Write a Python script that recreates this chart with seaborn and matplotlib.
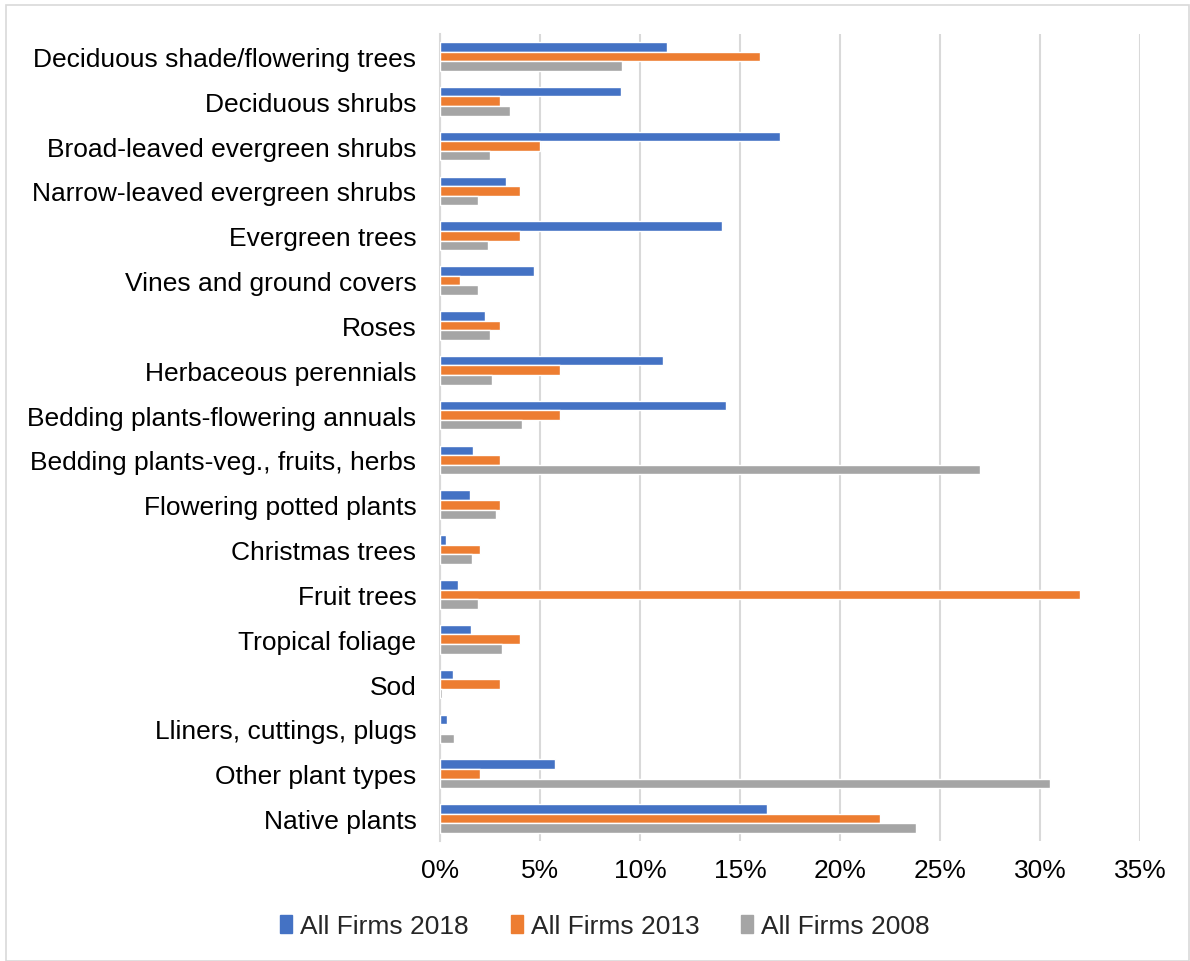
import matplotlib
matplotlib.use("Agg")
import matplotlib.pyplot as plt
import matplotlib.patches as mpatches
from matplotlib.ticker import FuncFormatter, MultipleLocator
import numpy as np
import pandas as pd
import seaborn as sns

categories = [
    "Deciduous shade/flowering trees",
    "Deciduous shrubs",
    "Broad-leaved evergreen shrubs",
    "Narrow-leaved evergreen shrubs",
    "Evergreen trees",
    "Vines and ground covers",
    "Roses",
    "Herbaceous perennials",
    "Bedding plants-flowering annuals",
    "Bedding plants-veg., fruits, herbs",
    "Flowering potted plants",
    "Christmas trees",
    "Fruit trees",
    "Tropical foliage",
    "Sod",
    "Lliners, cuttings, plugs",
    "Other plant types",
    "Native plants",
]

firms_2018 = [11.35, 9.05, 17.0, 3.3, 14.1, 4.7, 2.27, 11.15, 14.3, 1.66,
              1.5, 0.32, 0.92, 1.57, 0.65, 0.37, 5.75, 16.35]
firms_2013 = [16.0, 3.0, 5.0, 4.0, 4.0, 1.0, 3.0, 6.0, 6.0, 3.0,
              3.0, 2.0, 32.0, 4.0, 3.0, 0.0, 2.0, 22.0]
firms_2008 = [9.1, 3.5, 2.5, 1.9, 2.4, 1.9, 2.5, 2.6, 4.1, 27.0,
              2.8, 1.6, 1.9, 3.1, 0.1, 0.72, 30.5, 23.8]

series_names = ["All Firms 2018", "All Firms 2013", "All Firms 2008"]
series_colors = ["#4472C4", "#ED7D31", "#A5A5A5"]

frames = []
for name, vals in zip(series_names, [firms_2018, firms_2013, firms_2008]):
    frames.append(pd.DataFrame({"category": categories, "series": name, "value": vals}))
df = pd.concat(frames, ignore_index=True)

sns.set_theme(style="white")
plt.rcParams["font.family"] = ["Liberation Sans", "DejaVu Sans"]

fig = plt.figure(figsize=(11.9, 9.62), dpi=100)
ax = fig.add_axes([440 / 1190, 1 - 842 / 962, 700 / 1190, (842 - 35) / 962])

sns.barplot(
    data=df, x="value", y="category", hue="series",
    order=categories, hue_order=series_names,
    palette=series_colors, orient="h", width=0.64,
    saturation=1, legend=False, ax=ax, zorder=3,
)

ax.set_xlim(0, 35)
ax.xaxis.set_major_locator(MultipleLocator(5))
ax.xaxis.set_major_formatter(FuncFormatter(lambda v, p: f"{v:.0f}%"))
ax.grid(axis="x", color="#D9D9D9", linewidth=1.5, zorder=0)
ax.set_axisbelow(True)
ax.set_xlabel("")
ax.set_ylabel("")
for side in ["top", "right", "bottom"]:
    ax.spines[side].set_visible(False)
ax.spines["left"].set_color("#D9D9D9")
ax.spines["left"].set_linewidth(1.5)
ax.tick_params(axis="both", length=0, labelsize=19, colors="#000000")
ax.tick_params(axis="x", pad=12)
ax.tick_params(axis="y", pad=17)

handles = [mpatches.Patch(color=c, label=n) for n, c in zip(series_names, series_colors)]
fig.legend(
    handles=handles, loc="center", bbox_to_anchor=(605 / 1190, 1 - 927 / 962),
    ncol=3, frameon=False, fontsize=19, handlelength=0.45, handleheight=0.7,
    handletextpad=0.3, columnspacing=1.6,
)

fig.patches.append(mpatches.Rectangle(
    (6 / 1190, 0), 1183 / 1190, 1 - 6 / 962, transform=fig.transFigure,
    fill=False, edgecolor="#D9D9D9", linewidth=1.2,
))

fig.savefig("out.png", dpi=100, facecolor="white")
